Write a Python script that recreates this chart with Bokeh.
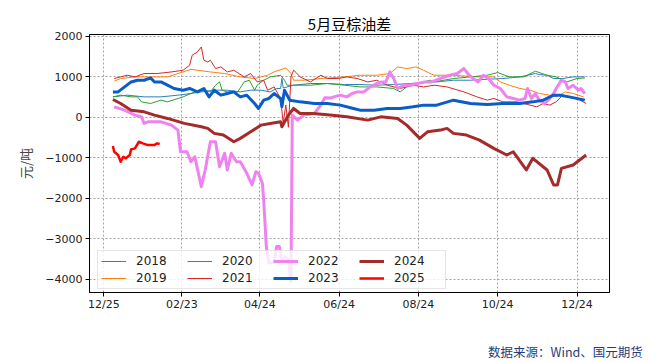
from bokeh.plotting import figure
from bokeh.models import Range1d, FixedTicker, Legend, LegendItem, Div
from bokeh.layouts import column
from bokeh.embed import file_html
from bokeh.resources import INLINE

# ---- data (day offset from 12/25 of previous year, value in 元/吨) ----
d2018 = [7, 18, 31, 44, 57, 67, 75, 85, 95, 105, 113, 121, 128, 133, 136, 137, 138, 146, 159, 172, 185, 197, 210, 223, 236, 251, 256, 269, 282, 295, 307, 320, 332, 335, 341, 346, 353, 361, 370]
v2018 = [500, 542, 500, 500, 542, 584, 623, 665, 665, 623, 665, 665, 623, 707, 707, 953, 720, 788, 830, 830, 805, 805, 788, 805, 830, 869, 869, 911, 911, 936, 953, 993, 1076, 1052, 1034, 953, 953, 993, 993]

d2019 = [8, 13, 24, 36, 49, 61, 67, 72, 82, 93, 105, 116, 121, 126, 131, 140, 144, 146, 154, 167, 185, 197, 210, 220, 226, 233, 240, 246, 251, 254, 269, 287, 300, 305, 312, 320, 328, 335, 343, 348, 355, 361, 369]
v2019 = [887, 953, 993, 993, 993, 1116, 1182, 1158, 1116, 1076, 993, 953, 993, 1034, 1116, 1214, 1076, 911, 911, 953, 993, 1034, 1034, 1076, 1239, 1199, 1239, 1158, 1076, 1034, 1034, 993, 993, 869, 788, 707, 665, 584, 542, 500, 623, 584, 500]

d2020 = [7, 13, 21, 26, 29, 36, 44, 49, 61, 70, 77, 82, 86, 89, 91, 95, 103, 108, 112, 116, 118, 123, 128, 136, 139, 141, 147, 159, 172, 185, 197, 210, 223, 228, 233, 241, 251, 254, 269, 282, 295, 303, 312, 323, 332, 341, 348, 356, 364, 370]
v2020 = [500, 542, 500, 500, 377, 337, 419, 377, 500, 623, 665, 623, 788, 869, 665, 623, 623, 869, 911, 665, 788, 911, 993, 1034, 911, 788, 788, 788, 830, 788, 746, 746, 707, 623, 746, 830, 911, 869, 953, 993, 1034, 1101, 993, 993, 1133, 1034, 993, 869, 953, 968]

d2021 = [8, 13, 18, 24, 31, 41, 52, 61, 66, 68, 72, 75, 77, 80, 82, 86, 90, 95, 100, 108, 113, 118, 123, 126, 131, 136, 138, 140, 142, 144, 146, 148, 151, 159, 167, 172, 180, 187, 195, 203, 210, 218, 228, 238, 246, 254, 264, 277, 287, 295, 300, 307, 318, 328, 333, 338, 343, 348, 353, 358, 364, 371]
v2021 = [953, 993, 1034, 993, 1076, 1076, 1116, 1158, 1281, 1527, 1608, 1732, 1404, 1362, 1404, 1199, 1239, 1116, 1158, 993, 1076, 869, 911, 665, 746, 461, -150, 300, -250, 1000, 1158, 1100, 993, 869, 1034, 953, 953, 993, 953, 869, 911, 788, 707, 788, 746, 788, 746, 623, 500, 419, 461, 377, 377, 296, 254, 337, 296, 377, 542, 500, 461, 337]

d2022 = [8, 16, 24, 29, 31, 34, 44, 52, 57, 59, 64, 67, 70, 75, 78, 82, 86, 89, 93, 95, 98, 102, 105, 110, 114, 117, 119, 122, 123, 125, 127, 131, 133, 135, 137, 140, 142, 144, 145, 149, 154, 162, 167, 170, 174, 177, 182, 187, 191, 195, 200, 205, 210, 214, 217, 220, 223, 226, 231, 236, 241, 247, 252, 259, 266, 272, 277, 280, 284, 288, 292, 296, 300, 305, 310, 315, 320, 324, 326, 329, 332, 335, 339, 342, 346, 348, 352, 355, 357, 361, 365, 367, 370]
v2022 = [254, 172, 49, 7, -155, -116, -116, -197, -320, -855, -855, -1101, -978, -1717, -1305, -608, -608, -1224, -894, -1305, -894, -1101, -1101, -1387, -1675, -1347, -1387, -1633, -2044, -3195, -3604, -3589, -3195, -3195, -3522, -3450, -3520, -4057, 49, -74, 49, 91, 300, 480, 470, 500, 542, 500, 584, 623, 623, 746, 830, 869, 869, 1116, 953, 707, 788, 788, 830, 869, 869, 953, 1034, 1076, 1199, 1076, 953, 869, 1034, 953, 788, 707, 500, 461, 419, 461, 707, 461, 584, 419, 337, 419, 584, 707, 911, 869, 707, 788, 665, 707, 584]

d2023 = [7, 11, 16, 21, 26, 31, 36, 39, 44, 49, 54, 61, 66, 72, 77, 81, 85, 90, 95, 100, 105, 110, 116, 119, 123, 127, 131, 136, 137, 139, 143, 151, 162, 172, 182, 192, 197, 208, 218, 228, 238, 246, 256, 269, 282, 295, 307, 320, 330, 338, 346, 351, 358, 370]
v2023 = [623, 623, 746, 869, 911, 911, 968, 869, 869, 788, 707, 665, 707, 623, 707, 500, 665, 542, 584, 623, 500, 542, 337, 214, 419, 461, 584, 461, 254, 665, 419, 377, 337, 337, 296, 214, 172, 172, 214, 214, 254, 296, 296, 419, 337, 313, 337, 337, 377, 419, 542, 542, 500, 419]

d2024 = [7, 13, 21, 31, 39, 49, 62, 75, 80, 85, 92, 100, 105, 113, 121, 128, 136, 137, 142, 146, 151, 161, 174, 187, 203, 213, 226, 233, 243, 249, 259, 264, 269, 279, 289, 300, 310, 315, 325, 330, 341, 346, 349, 352, 361, 366, 371]
v2024 = [436, 337, 172, 130, 49, -32, -155, -239, -278, -401, -443, -608, -525, -362, -197, -155, -116, -239, 49, 214, 91, 91, 50, 7, -74, 7, -32, -197, -525, -362, -320, -278, -401, -443, -567, -771, -936, -855, -1305, -1017, -1305, -1675, -1675, -1264, -1182, -1059, -936]

d2025 = [7, 8, 11, 13, 15, 17, 20, 21, 24, 27, 30, 34, 39, 41, 43]
v2025 = [-714, -855, -936, -1101, -978, -1017, -936, -796, -771, -608, -648, -690, -690, -648, -665]

years = ["2018", "2019", "2020", "2021", "2022", "2023", "2024", "2025"]
colors = ["#2a7fc0", "#ff7f0e", "#2ca02c", "#d62728", "#ee82ee", "#0a5cc8", "#a52a2a", "#ff0000"]
widths = [1, 1, 1, 1, 3, 3, 3, 2.5]
xs = [d2018, d2019, d2020, d2021, d2022, d2023, d2024, d2025]
ys = [v2018, v2019, v2020, v2021, v2022, v2023, v2024, v2025]

x_ticks = [0, 60, 120, 181, 242, 303, 364]
x_labels = ["12/25", "02/23", "04/24", "06/24", "08/24", "10/24", "12/24"]
y_ticks = [-4000, -3000, -2000, -1000, 0, 1000, 2000]

title_text = "5月豆棕油差"
ylabel_text = "元/吨"
source_text = "数据来源：Wind、国元期货"

# ---- figure ----
W, H = 648, 322
FL, FT, FW, FH = 89, 34, 520, 258
p = figure(width=W, height=H, output_backend="svg", toolbar_location=None,
           x_range=Range1d(-11, 389), y_range=Range1d(-4330, 2040),
           min_border_left=FL, min_border_right=W - FL - FW,
           min_border_top=FT, min_border_bottom=H - FT - FH)
p.background_fill_color = "white"
p.border_fill_color = "white"
p.outline_line_color = "black"
p.outline_line_width = 1

p.title.text = title_text
p.title.align = "center"
p.title.text_font = "Noto Sans CJK SC"
p.title.text_font_size = "15px"
p.title.text_font_style = "normal"
p.title.text_color = "black"
p.title.standoff = 1

for ax in (p.xaxis[0], p.yaxis[0]):
    ax.axis_line_color = "black"
    ax.major_tick_line_color = "black"
    ax.major_tick_out = 4
    ax.major_tick_in = 0
    ax.minor_tick_line_color = None
    ax.major_label_text_font = "DejaVu Sans"
    ax.major_label_text_font_size = "11px"
    ax.major_label_text_color = "#222222"
p.xaxis.major_label_standoff = 1
p.yaxis.major_label_standoff = 3

p.xaxis.ticker = FixedTicker(ticks=x_ticks)
p.xaxis.major_label_overrides = {t: l for t, l in zip(x_ticks, x_labels)}
p.yaxis.ticker = FixedTicker(ticks=y_ticks)
p.yaxis.major_label_overrides = {t: (str(t).replace("-", "\u2212")) for t in y_ticks}

p.yaxis.axis_label = ylabel_text
p.yaxis.axis_label_text_font = "Noto Sans CJK SC"
p.yaxis.axis_label_text_font_size = "13px"
p.yaxis.axis_label_text_font_style = "normal"
p.yaxis.axis_label_standoff = 7

for g in (p.xgrid[0], p.ygrid[0]):
    g.grid_line_color = "#9a9a9a"
    g.grid_line_dash = "2 2"
    g.grid_line_width = 1
    g.grid_line_alpha = 0.9

items = []
for yr, c, w, x, y in zip(years, colors, widths, xs, ys):
    r = p.line(x, y, line_color=c, line_width=w, line_join="round")
    items.append(LegendItem(label=yr, renderers=[r]))

legend = Legend(items=items, location=(8, 3), orientation="vertical", ncols=4,
                glyph_width=25, glyph_height=12, label_height=12, label_width=48,
                label_standoff=10, spacing=3, padding=3, margin=0,
                label_text_font="DejaVu Sans", label_text_font_size="12px",
                label_text_color="#222222", label_text_line_height=1.0,
                border_line_color="#cccccc", border_line_width=1,
                background_fill_color="white", background_fill_alpha=0.8)
p.add_layout(legend)

src_html = ('<div style="position:absolute; left:488px; top:24px; white-space:nowrap; '
            'font-family:\'Noto Sans CJK SC\'; font-size:12.5px; line-height:1; color:#1f3d7a;">'
            + source_text + '</div>')
src = Div(text=src_html, width=W, height=361 - H, margin=0)

layout = column(p, src, spacing=0)
open("out.html", "w").write(file_html(layout, INLINE))
